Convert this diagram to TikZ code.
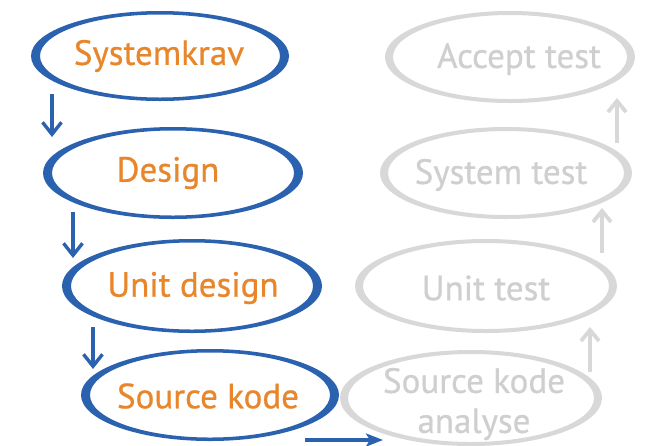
\documentclass[tikz,border=0pt]{standalone}
\usepackage{fontspec}
\setmainfont{PT Sans}[BoldFont={PT Sans}, BoldFeatures={FakeBold=0.7}]
\usetikzlibrary{shapes.geometric,arrows.meta}
\definecolor{vblue}{HTML}{2A62B0}
\definecolor{vorange}{HTML}{E8862C}
\definecolor{vgray}{HTML}{D8D8D8}
\definecolor{vgtext}{HTML}{CFCFCF}
\tikzset{
  phase/.style={ellipse, minimum width=260pt, minimum height=92pt, inner sep=0pt,
    font=\fontsize{35}{40}\selectfont\bfseries},
  done/.style={phase, text=vorange},
  todo/.style={phase, text=vgtext},
  barrow/.style={draw=vblue, line width=3.4pt, -{Straight Barb[length=12pt,width=19pt,line width=3.4pt]}},
  garrow/.style={draw=vgray, line width=3.8pt, -{Straight Barb[length=11pt,width=18pt,line width=3.8pt]}},
  harrow/.style={draw=vblue, line width=3.2pt, -{Stealth[length=17pt,width=13pt,inset=4pt]}},
}
\newcommand{\ringb}[4]{\fill[vblue, even odd rule] (#1) ellipse [x radius=#2, y radius=#3] (#1) ellipse [x radius=#2-#4, y radius=#3-3.5];}
\newcommand{\ringg}[4]{\fill[vgray, even odd rule] (#1) ellipse [x radius=#2, y radius=#3] (#1) ellipse [x radius=#2-#4, y radius=#3-4];}
\begin{document}
\begin{tikzpicture}[x=1pt,y=-1pt]
\fill[white] (0,0) rectangle (652,445);
\useasboundingbox (0,0) rectangle (652,445);
% left (done) side
\ringb{160,56}{129}{45}{9}
\ringb{173,173}{130}{46}{9}
\ringb{192,286}{130}{47}{9}
\ringb{210,395}{129}{46}{9}
\node[done] (sys) at (159,56) {Systemkrav};
\node[done] (des) at (168,173) {Design};
\node[done] (ud) at (193,288) {Unit design};
\node[done] (sk) at (208,396) {Source kode};
% right (to do) side
\ringg{510,57}{125}{46}{8}
\ringg{506,173}{126}{46}{8}
\ringg{486,286}{131}{47}{8}
\ringg{471,398}{131}{48}{8}
\node[todo] (acc) at (519,59) {Accept test};
\node[todo] (st) at (501,175) {System test};
\node[todo] (ut) at (486,288) {Unit test};
\node[todo, align=center, font=\fontsize{35}{40}\selectfont\bfseries] (ska) at (474,404) {Source kode\\analyse};
% blue arrows
\draw[barrow] (sys.center) ++(-107,38) -- ++(0,43);
\draw[barrow] (des.center) ++(-95,39) -- ++(0,46);
\draw[barrow] (ud.center) ++(-100,39) -- ++(0,42);
\draw[harrow] (sk.center) ++(97,44) -- ++(78,0);
% gray arrows
\draw[garrow] (ska.center) ++(116,-32) -- ++(0,-45);
\draw[garrow] (ut.center) ++(116,-35) -- ++(0,-45);
\draw[garrow] (st.center) ++(116,-32) -- ++(0,-45);
\end{tikzpicture}
\end{document}
